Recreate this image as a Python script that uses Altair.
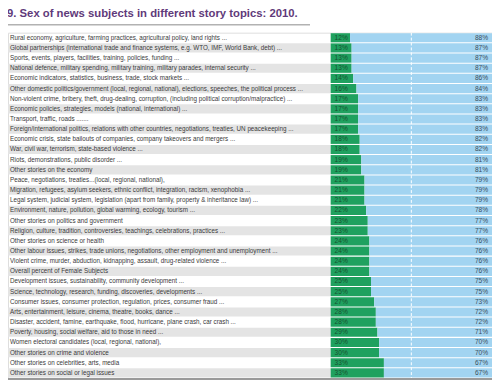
import altair as alt
import pandas as pd

topics = [
    "Rural economy, agriculture, farming practices, agricultural policy, land rights ...",
    "Global partnerships (international trade and finance systems, e.g. WTO, IMF, World Bank, debt) ...",
    "Sports, events, players, facilities, training, policies, funding ...",
    "National defence, military spending, military training, military parades, internal security ...",
    "Economic indicators, statistics, business, trade, stock markets ...",
    "Other domestic politics/government (local, regional, national), elections, speeches, the political process ...",
    "Non-violent crime, bribery, theft, drug-dealing, corruption, (including political corruption/malpractice) ...",
    "Economic policies, strategies, models (national, international) ...",
    "Transport, traffic, roads .......",
    "Foreign/international politics, relations with other countries, negotiations, treaties, UN peacekeeping ...",
    "Economic crisis, state bailouts of companies, company takeovers and mergers ...",
    "War, civil war, terrorism, state-based violence ...",
    "Riots, demonstrations, public disorder ...",
    "Other stories on the economy",
    "Peace, negotiations, treaties...(local, regional, national),",
    "Migration, refugees, asylum seekers, ethnic conflict, integration, racism, xenophobia ...",
    "Legal system, judicial system, legislation (apart from family, property & inheritance law) ...",
    "Environment, nature,   pollution, global warming, ecology, tourism ...",
    "Other stories on politics and government",
    "Religion, culture, tradition, controversies, teachings, celebrations, practices ...",
    "Other stories on science or health",
    "Other labour issues, strikes, trade unions, negotiations, other employment and unemployment ...",
    "Violent crime, murder, abduction, kidnapping, assault, drug-related violence ...",
    "Overall percent of Female Subjects",
    "Development issues, sustainability, community development ...",
    "Science, technology, research, funding, discoveries, developments ...",
    "Consumer issues, consumer protection, regulation, prices, consumer fraud ...",
    "Arts, entertainment, leisure, cinema, theatre, books, dance ...",
    "Disaster, accident, famine, earthquake, flood, hurricane, plane crash, car crash ...",
    "Poverty, housing, social welfare, aid to those in need ...",
    "Women electoral candidates (local, regional, national),",
    "Other stories on crime and violence",
    "Other stories on celebrities, arts, media",
    "Other stories on social or legal issues",
]
female = [12, 13, 13, 13, 14, 16, 17, 17, 17, 17, 18, 18, 19, 19, 21, 21, 21, 22, 23, 23,
          24, 24, 24, 24, 25, 25, 27, 28, 28, 29, 30, 30, 33, 33]
male = [88, 87, 87, 87, 86, 84, 83, 83, 83, 83, 82, 82, 81, 81, 79, 79, 79, 78, 77, 77,
        76, 76, 76, 76, 75, 75, 73, 72, 72, 71, 70, 70, 67, 67]

n = len(topics)
df = pd.DataFrame({
    "row": list(range(n)),
    "topic": topics,
    "female": female,
    "male": male,
})
df["start"] = -200
df["zero"] = 0
df["full"] = 100
df["stripe"] = [i % 2 == 1 for i in range(n)]
df["flab"] = [f"{v}%" for v in female]
df["mlab"] = [f"{v}%" for v in male]

FONT = "Liberation Sans, Arial"
GREEN = "#1fa15f"
BLUE = "#a2d4f1"

xs = alt.Scale(domain=[-200, 100], nice=False, zero=False)
ys = alt.Scale(paddingInner=0.1, paddingOuter=0.05)
base = alt.Chart(df).encode(y=alt.Y("row:O", axis=None, scale=ys))

stripes = base.transform_filter("datum.stripe").mark_rect(color="#e4e4e4").encode(
    x=alt.X("start:Q", scale=xs, axis=None), x2="zero:Q"
)
green = base.mark_bar(color=GREEN).encode(
    x=alt.X("zero:Q", scale=xs, axis=None), x2="female:Q"
)
blue = base.mark_bar(color=BLUE).encode(
    x=alt.X("female:Q", scale=xs, axis=None), x2="full:Q"
)
mid = alt.Chart(pd.DataFrame({"x": [50]})).mark_rule(
    color="white", strokeDash=[3, 2], strokeWidth=1
).encode(x=alt.X("x:Q", scale=xs, axis=None))

labels = base.mark_text(align="left", baseline="middle", dx=2, font=FONT,
                        fontSize=6.4, color="#3a3a3a").encode(
    x=alt.X("start:Q", scale=xs, axis=None), text="topic:N"
)
flabels = base.mark_text(align="left", baseline="middle", dx=4, font=FONT,
                         fontSize=6.7, color="#17502f").encode(
    x=alt.X("zero:Q", scale=xs, axis=None), text="flab:N"
)
mlabels = base.mark_text(align="right", baseline="middle", dx=-4, font=FONT,
                         fontSize=6.7, color="#3b4f5c").encode(
    x=alt.X("full:Q", scale=xs, axis=None), text="mlab:N"
)

underline = alt.Chart(pd.DataFrame({"a": [0]})).mark_rule(color="#8a8a8a", strokeWidth=1).encode(
    x=alt.value(0), x2=alt.value(307), y=alt.value(-8)
)
bottom = alt.Chart(pd.DataFrame({"a": [0]})).mark_rule(color="#9a9a9a", strokeWidth=2).encode(
    x=alt.value(0), x2=alt.value(492), y=alt.value(352)
)

chart = alt.layer(stripes, green, blue, mid, labels, flabels, mlabels, underline, bottom).properties(
    width=492,
    height=351,
    autosize=alt.AutoSizeParams(type="none"),
    padding={"left": 0, "top": 22, "right": 0, "bottom": 4},
    title=alt.TitleParams(
        "9. Sex of news subjects in different story topics: 2010.",
        anchor="start", fontSize=11.5, font="Liberation Sans", fontWeight="bold",
        color="#5f3a7a", baseline="bottom", offset=3, dy=9,
    ),
).configure_view(stroke=None).configure(background="white")

chart.save("out.html", embed_options={"renderer": "svg", "actions": False})
